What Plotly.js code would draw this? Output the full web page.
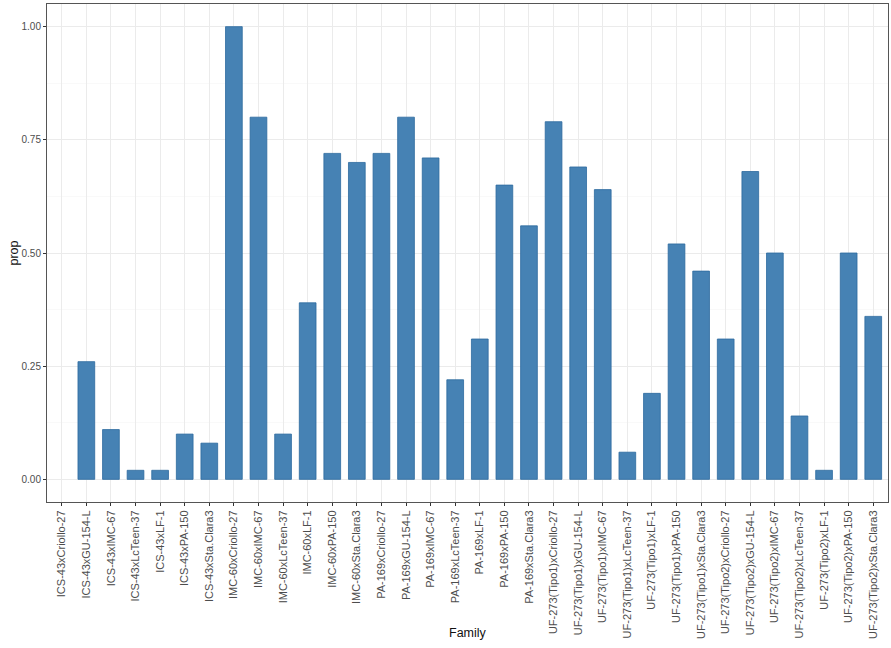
<!DOCTYPE html>
<html>
<head>
<meta charset="utf-8">
<script src="https://cdn.plot.ly/plotly-3.0.1.min.js"></script>
<style>
  html, body { margin: 0; padding: 0; background: #fff; }
  #plot { width: 891px; height: 648px; }
</style>
</head>
<body>
<div id="plot"></div>
<script>
// family crosses, in the order shown on the x axis
let families = [
    'ICS-43xCriollo-27', 'ICS-43xGU-154-L', 'ICS-43xIMC-67', 'ICS-43xLcTeen-37',
    'ICS-43xLF-1', 'ICS-43xPA-150', 'ICS-43xSta.Clara3',
    'IMC-60xCriollo-27', 'IMC-60xIMC-67', 'IMC-60xLcTeen-37', 'IMC-60xLF-1',
    'IMC-60xPA-150', 'IMC-60xSta.Clara3',
    'PA-169xCriollo-27', 'PA-169xGU-154-L', 'PA-169xIMC-67', 'PA-169xLcTeen-37',
    'PA-169xLF-1', 'PA-169xPA-150', 'PA-169xSta.Clara3',
    'UF-273(Tipo1)xCriollo-27', 'UF-273(Tipo1)xGU-154-L', 'UF-273(Tipo1)xIMC-67',
    'UF-273(Tipo1)xLcTeen-37', 'UF-273(Tipo1)xLF-1', 'UF-273(Tipo1)xPA-150',
    'UF-273(Tipo1)xSta.Clara3',
    'UF-273(Tipo2)xCriollo-27', 'UF-273(Tipo2)xGU-154-L', 'UF-273(Tipo2)xIMC-67',
    'UF-273(Tipo2)xLcTeen-37', 'UF-273(Tipo2)xLF-1', 'UF-273(Tipo2)xPA-150',
    'UF-273(Tipo2)xSta.Clara3'
]

let prop = [
    null, 0.26, 0.11, 0.02, 0.02, 0.10, 0.08,
    1.00, 0.80, 0.10, 0.39, 0.72, 0.70,
    0.72, 0.80, 0.71, 0.22, 0.31, 0.65, 0.56,
    0.79, 0.69, 0.64, 0.06, 0.19, 0.52, 0.46,
    0.31, 0.68, 0.50, 0.14, 0.02, 0.50, 0.36
]

let yTicks = [0, 0.25, 0.5, 0.75, 1]
let yTickText = ['0.00', '0.25', '0.50', '0.75', '1.00']

let fontFamily = 'Liberation Sans, Arial, sans-serif'
let yTickFont = { family: fontFamily, size: 10, color: '#4d4d4d' }
let xTickFont = { family: fontFamily, size: 11, color: '#4d4d4d' }
let titleFont = { family: fontFamily, size: 12.5, color: '#111' }

Plotly.newPlot('plot', [{
    x: families,
    y: prop,
    type: 'bar',
    marker: {
        color: '#4682b4',
        line: { color: '#2c6a9e', width: 0.8 }
    },
    hoverinfo: 'x+y'
}], {
    width: 891,
    height: 648,
    margin: { l: 47, r: 3, t: 4, b: 146 },
    paper_bgcolor: '#fff',
    plot_bgcolor: '#fff',
    bargap: 0.32,
    showlegend: false,
    xaxis: {
        type: 'category',
        range: [-0.6, families.length - 0.4],
        tickangle: -90,
        tickfont: xTickFont,
        ticks: 'outside',
        ticklen: 3,
        tickcolor: '#333',
        showgrid: true,
        gridcolor: '#ebebeb',
        gridwidth: 1,
        showline: true,
        linecolor: '#555',
        linewidth: 1,
        mirror: true,
        zeroline: false,
        automargin: false
    },
    yaxis: {
        range: [-0.05, 1.05],
        tickvals: yTicks,
        ticktext: yTickText,
        tickfont: yTickFont,
        ticks: 'outside',
        ticklen: 3,
        tickcolor: '#333',
        showgrid: true,
        gridcolor: '#ebebeb',
        gridwidth: 1,
        minor: { tickvals: [0.125, 0.375, 0.625, 0.875], showgrid: true, gridcolor: '#f5f5f5', gridwidth: 0.6, ticks: '' },
        showline: true,
        linecolor: '#555',
        linewidth: 1,
        mirror: true,
        zeroline: false,
        automargin: false,
        title: { text: 'prop', font: titleFont, standoff: 0 }
    },
    // x axis title placed by hand so it sits closer to the rotated labels
    annotations: [{
        text: 'Family',
        font: titleFont,
        xref: 'paper', yref: 'paper',
        x: 0.5, y: -0.263,
        xanchor: 'center', yanchor: 'middle',
        showarrow: false
    }]
}, { displayModeBar: false, staticPlot: true })
</script>
</body>
</html>
